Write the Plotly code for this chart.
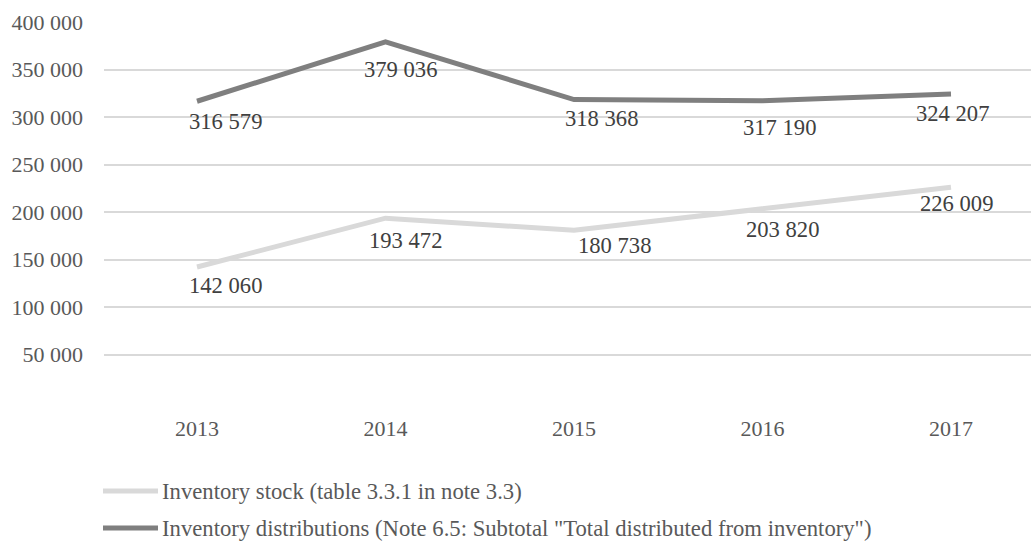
import plotly.graph_objects as go

years = ["2013", "2014", "2015", "2016", "2017"]
stock = [142060, 193472, 180738, 203820, 226009]
distributions = [316579, 379036, 318368, 317190, 324207]
stock_name = "Inventory stock (table 3.3.1 in note 3.3)"
dist_name = 'Inventory distributions (Note 6.5: Subtotal "Total distributed from inventory")'
y_ticks = [0, 50000, 100000, 150000, 200000, 250000, 300000, 350000, 400000]

# label offsets in pixels (style only)
stock_off = [(28, 18), (20, 22), (40, 15), (20, 21), (5, 16)]
dist_off = [(28, 20), (15, 28), (27, 19), (17, 27), (1, 19)]

FONT = "Liberation Serif, Times New Roman, serif"
W, H = 1031, 541
L, R, T, B = 104, 0, 22, 139
PW, PH = W - L - R, H - T - B


def fmt(v):
    return f"{v:,}".replace(",", " ")


def px_x(px):
    return (px - L) / PW


def px_y(py):
    return (H - B - py) / PH


xs = list(range(len(years)))
fig = go.Figure()
fig.add_trace(go.Scatter(x=xs, y=stock, mode="lines", name=stock_name,
                         line=dict(color="#d9d9d9", width=5), cliponaxis=False,
                         showlegend=False))
fig.add_trace(go.Scatter(x=xs, y=distributions, mode="lines", name=dist_name,
                         line=dict(color="#7f7f7f", width=5), cliponaxis=False,
                         showlegend=False))

annotations = []
for series, offs in ((stock, stock_off), (distributions, dist_off)):
    for i, v in enumerate(series):
        dx, dy = offs[i]
        annotations.append(dict(x=xs[i], y=v, xref="x", yref="y", text=fmt(v),
                                showarrow=False, xanchor="center", yanchor="middle",
                                xshift=dx, yshift=-dy,
                                font=dict(family=FONT, size=22.6, color="#404040")))

shapes = []
for name, color, py in ((stock_name, "#d9d9d9", 491), (dist_name, "#7f7f7f", 528)):
    shapes.append(dict(type="line", xref="paper", yref="paper",
                       x0=px_x(103), x1=px_x(158), y0=px_y(py), y1=px_y(py),
                       line=dict(color=color, width=5)))
    annotations.append(dict(x=px_x(160), y=px_y(py), xref="paper", yref="paper",
                            text=name, showarrow=False, xanchor="left", yanchor="middle",
                            font=dict(family=FONT, size=22.7, color="#595959")))

lo = (104 - 197) / 188.5
hi = (1031 - 197) / 188.5

fig.update_layout(
    width=W, height=H,
    margin=dict(l=L, r=R, t=T, b=B),
    paper_bgcolor="white", plot_bgcolor="white",
    font=dict(family=FONT, size=22, color="#595959"),
    showlegend=False,
    xaxis=dict(range=[lo, hi], tickmode="array", tickvals=xs, ticktext=years,
               showgrid=False, zeroline=False, showline=False, ticks="",
               ticklabelstandoff=11, tickfont=dict(family=FONT, size=22, color="#595959")),
    yaxis=dict(range=[0, 400000], tickmode="array", tickvals=y_ticks,
               ticktext=["" if v == 0 else fmt(v) for v in y_ticks],
               showgrid=True, gridcolor="#d9d9d9", gridwidth=1.5, zeroline=False,
               showline=False, ticks="", ticklabelstandoff=20,
               tickfont=dict(family=FONT, size=22, color="#595959")),
    annotations=annotations,
    shapes=shapes,
)

fig.write_html("out.html")
